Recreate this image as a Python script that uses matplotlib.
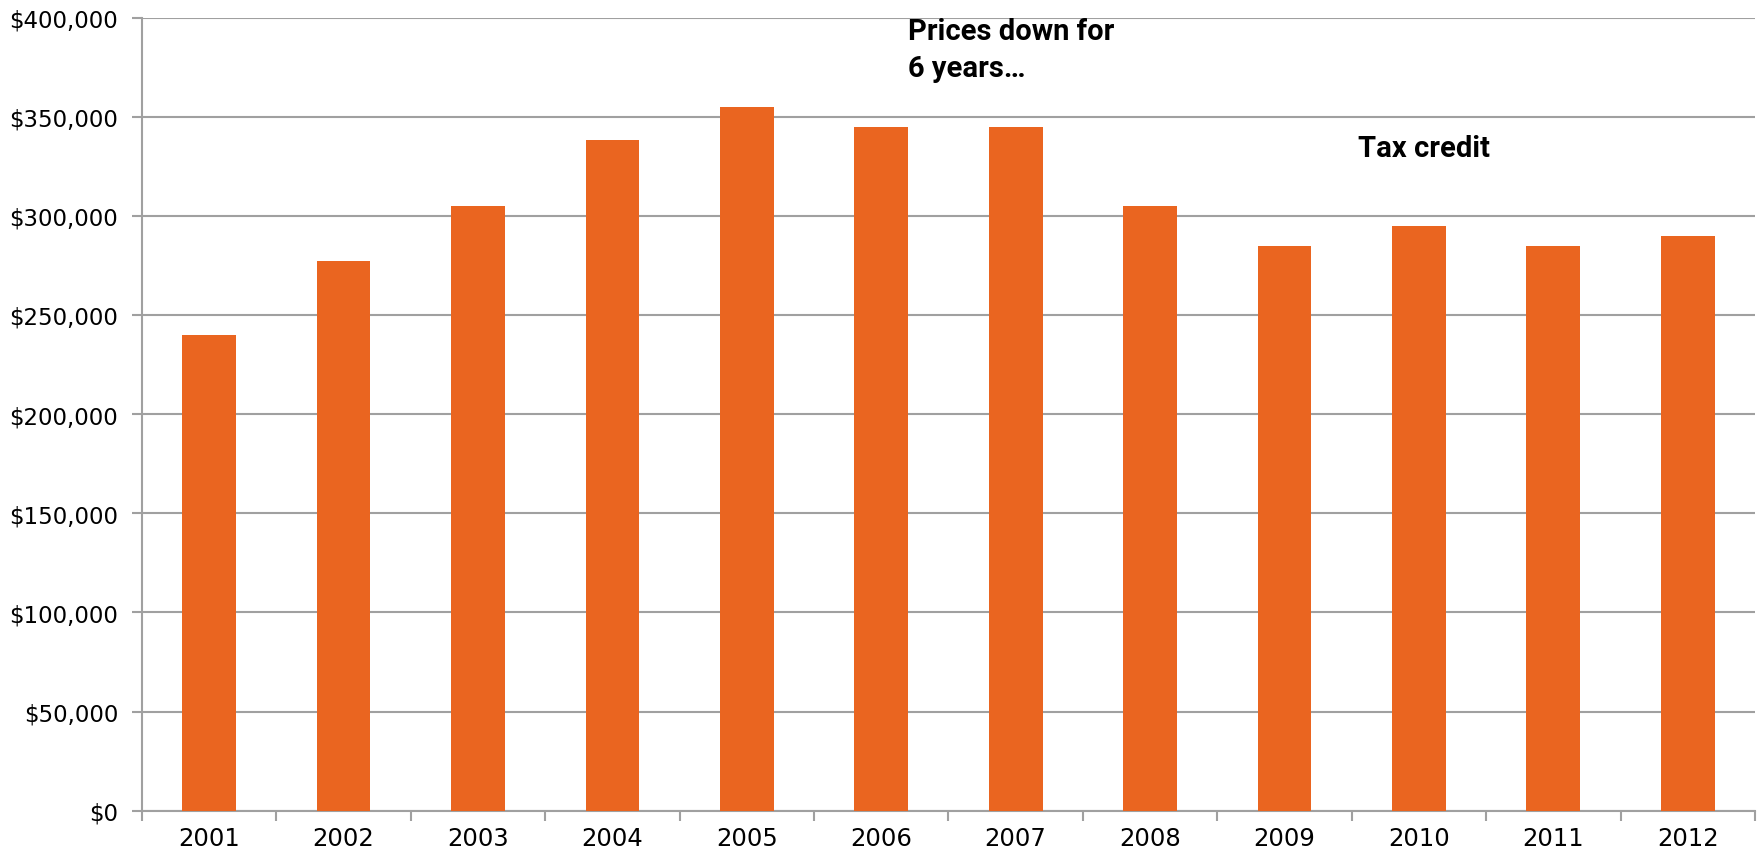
import numpy as np
import matplotlib
matplotlib.use('Agg')
import matplotlib.pyplot as plt
from matplotlib.ticker import FuncFormatter

# =============================================================================
#                    DATOS
# =============================================================================

years = ['2001', '2002', '2003', '2004', '2005', '2006',
         '2007', '2008', '2009', '2010', '2011', '2012']
prices = [240000, 277000, 305000, 338000, 355000, 345000,
          345000, 305000, 285000, 295000, 285000, 290000]

note1a = 'Prices down for'
note1b = '6 years\u2026'
note2 = 'Tax credit'

# =============================================================================
#                    PLOTEO
# =============================================================================

orange = '#EA6520'
gray = '#A0A0A0'

fig = plt.figure(figsize=(17.61, 8.54), dpi=100)
ax = fig.add_axes([0.0806, 0.0495, 0.916, 0.9288])

x = np.arange(len(years))
ax.bar(x, prices, width=0.4, color=orange, zorder=3)

ax.set_xlim(-0.5, len(years) - 0.5)
ax.set_ylim(0, 400000)
ax.set_yticks(np.arange(0, 400001, 50000))
ax.yaxis.set_major_formatter(FuncFormatter(lambda v, p: '${:,.0f}'.format(v)))

# ticks entre categorias, etiquetas en el centro
ax.set_xticks(np.arange(-0.5, len(years), 1))
ax.set_xticklabels([])
ax.set_xticks(x, minor=True)
ax.set_xticklabels(years, minor=True)
ax.tick_params(axis='x', which='major', length=7, width=1.5, color=gray)
ax.tick_params(axis='x', which='minor', length=0, pad=11, labelsize=17.5)
ax.tick_params(axis='y', length=7, width=1.5, color=gray, pad=10, labelsize=16.5)

ax.grid(axis='y', color=gray, linewidth=1.5, zorder=0)
for s in ['top', 'right']:
    ax.spines[s].set_visible(False)
for s in ['left', 'bottom']:
    ax.spines[s].set_color(gray)
    ax.spines[s].set_linewidth(1.5)

fnt = ['Roboto', 'DejaVu Sans']
ax.text(5.2, 389000, note1a, fontsize=21, fontweight='bold',
        family=fnt, va='baseline', ha='left')
ax.text(5.2, 370500, note1b, fontsize=21, fontweight='bold',
        family=fnt, va='baseline', ha='left')
ax.text(8.55, 330000, note2, fontsize=21, fontweight='bold',
        family=fnt, va='baseline', ha='left')

fig.savefig('out.png', dpi=100)
